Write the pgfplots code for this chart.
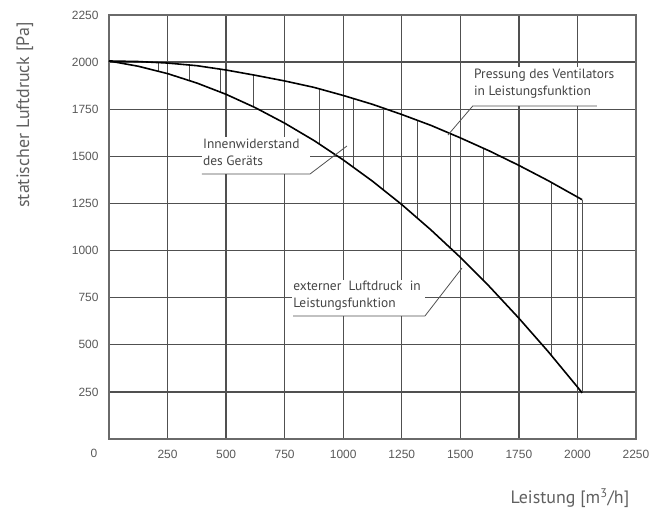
\documentclass[border=0pt]{standalone}
\usepackage{fontspec}
\setmainfont{PT Sans}
\newfontfamily\tickfont{Liberation Sans}
\usepackage{pgfplots}
\pgfplotsset{compat=1.18}
\definecolor{gridc}{HTML}{505050}
\definecolor{txt}{HTML}{454545}
\begin{document}
\begin{tikzpicture}
\begin{axis}[
  scale only axis, width=527bp, height=424bp,
  xmin=0, xmax=2250, ymin=0, ymax=2250,
  xtick={250,500,...,2250}, ytick={250,500,...,2250},
  grid=major, grid style={gridc, line width=1.3pt},
  axis line style={gridc!85, line width=1.2pt},
  major tick length=0pt,
  tick label style={font=\tickfont\fontsize{12}{13}\selectfont, text=gray!70!black},
  /pgf/number format/assume math mode=true,
  /pgf/number format/1000 sep={},
  xticklabel style={yshift=-8bp},
  yticklabel style={xshift=-7bp},
  clip=false,
]
\coordinate (bl) at (rel axis cs:0,0);
\coordinate (tr) at (rel axis cs:1,1);
% white boxes behind the annotations
\fill[white] (axis cs:397,1406) rectangle (axis cs:858,1600);
\fill[white] (axis cs:1555,1767) rectangle (axis cs:2083,1975);
\fill[white] (axis cs:781,653) rectangle (axis cs:1349,844);

% hatching between the curves
\addplot[gridc, line width=1pt, unbounded coords=jump] coordinates {
 (213,1951) (213,1998) (213,nan)
 (342,1903) (342,1985) (342,nan)
 (474,1842) (474,1965) (474,nan)
 (615,1764) (615,1932) (615,nan)
 (750,1676) (750,1904) (750,nan)
 (897,1566) (897,1861) (897,nan)
 (1042,1444) (1042,1810) (1042,nan)
 (1170,1324) (1170,1759) (1170,nan)
 (1315,1175) (1315,1694) (1315,nan)
 (1460,1011) (1460,1621) (1460,nan)
 (1601,838) (1601,1543) (1601,nan)
 (1750,641) (1750,1453) (1750,nan)
 (1891,440) (1891,1361) (1891,nan)
 (2020,245) (2020,1270)
};

% Pressung des Ventilators
\addplot[black, line width=1.6pt] coordinates {
 (0,2006) (125,2003) (250,1995) (375,1981) (500,1958) (625,1930) (750,1900)
 (875,1866) (1000,1823) (1125,1776) (1250,1722) (1375,1664) (1500,1598)
 (1625,1528) (1750,1452) (1875,1371) (2000,1284) (2020,1270)
};
% externer Luftdruck
\addplot[black, line width=1.6pt] coordinates {
 (0,2006) (125,1978) (250,1939) (375,1889) (500,1829) (625,1758) (750,1676)
 (875,1584) (1000,1481) (1125,1368) (1250,1244) (1375,1109) (1500,964)
 (1625,808) (1750,641) (1875,464) (2000,276) (2020,245)
};

\begin{scope}[txt, font=\fontsize{13.5}{17}\selectfont]
\node[anchor=north west, inner sep=0pt, align=left] at (axis cs:401,1592) {Innenwiderstand\\des Geräts};
\draw[gridc, line width=0.8pt] (axis cs:397,1406) -- (axis cs:858,1406) -- (axis cs:1016,1555);
\node[anchor=north west, inner sep=0pt, align=left] at (axis cs:1558,1962) {Pressung des Ventilators\\in Leistungsfunktion};
\draw[gridc, line width=0.8pt] (axis cs:2083,1767) -- (axis cs:1553,1767) -- (axis cs:1447,1613);
\node[anchor=north west, inner sep=0pt, align=left] at (axis cs:786,838) {externer\ \ Luftdruck\ \ in\\Leistungsfunktion};
\draw[gridc, line width=0.8pt] (axis cs:786,653) -- (axis cs:1349,653) -- (axis cs:1507,907);
\end{scope}

\node[font=\tickfont\fontsize{12}{13}\selectfont, text=gray!70!black] at (axis cs:-64,-74) {0};
\node[rotate=90, text=gray!75!black, font=\fontsize{18}{21}\selectfont] at (axis cs:-359,1719) {statischer Luftdruck [Pa]};
\node[text=gray!75!black, font=\fontsize{18}{21}\selectfont] at (axis cs:1968,-313) {Leistung [m\textsuperscript{3}/h]};
\end{axis}
\pgfresetboundingbox
\path[use as bounding box] ([shift={(-109bp,-71bp)}]bl) rectangle ([shift={(31bp,15bp)}]tr);
\end{tikzpicture}
\end{document}
